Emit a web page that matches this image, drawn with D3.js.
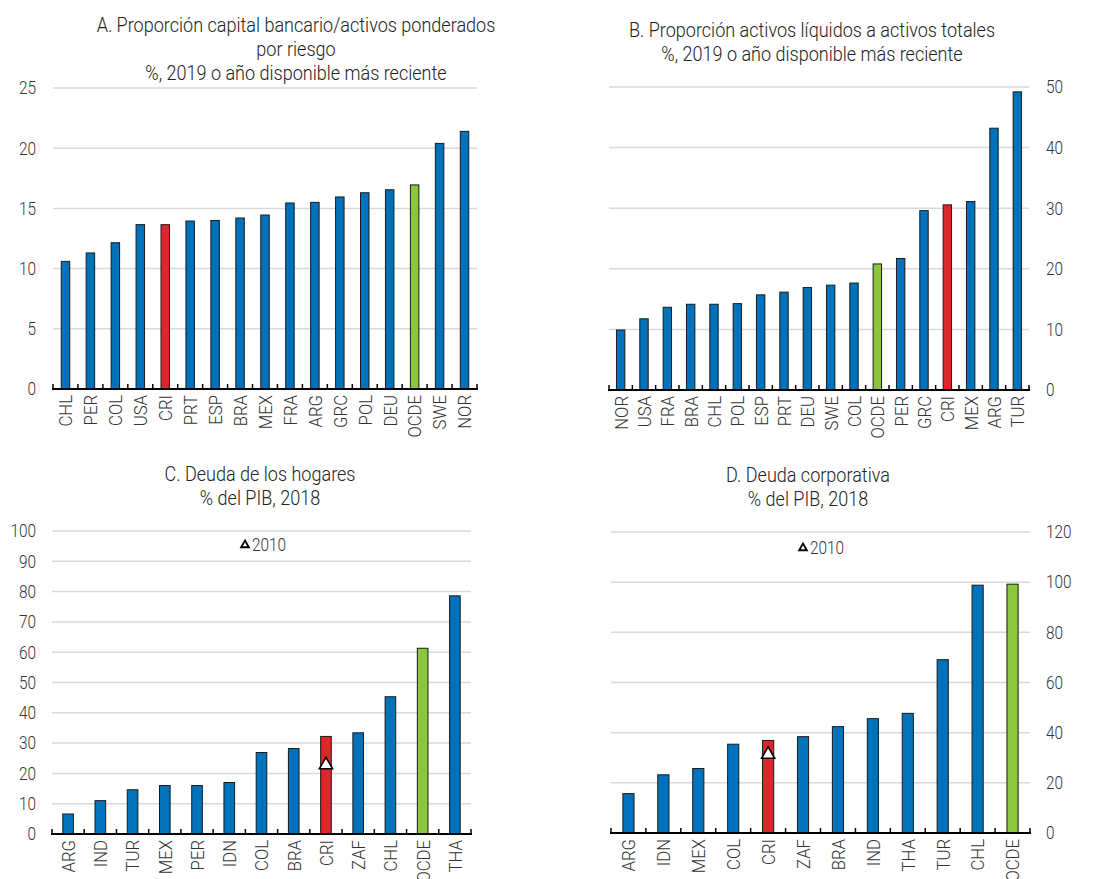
<!DOCTYPE html>
<html>
<head>
<meta charset="utf-8">
<script src="https://cdn.jsdelivr.net/npm/d3@7"></script>
<style>
  body { margin: 0; background: #fff; }
  text { font-family: Roboto, "Liberation Sans", sans-serif; font-weight: 300; fill: #333; }
</style>
</head>
<body>
<script>
// Panel A: bank capital to risk-weighted assets
var catsA = ["CHL","PER","COL","USA","CRI","PRT","ESP","BRA","MEX","FRA","ARG","GRC","POL","DEU","OCDE","SWE","NOR"];
var valsA = [10.6, 11.3, 12.15, 13.65, 13.65, 13.95, 14.0, 14.2, 14.45, 15.45, 15.5, 15.95, 16.3, 16.55, 16.95, 20.4, 21.4];
var ticksA = [0, 5, 10, 15, 20, 25];

// Panel B: liquid assets to total assets
var catsB = ["NOR","USA","FRA","BRA","CHL","POL","ESP","PRT","DEU","SWE","COL","OCDE","PER","GRC","CRI","MEX","ARG","TUR"];
var valsB = [9.9, 11.75, 13.65, 14.15, 14.15, 14.25, 15.7, 16.15, 16.9, 17.3, 17.65, 20.8, 21.7, 29.6, 30.55, 31.1, 43.2, 49.2];
var ticksB = [0, 10, 20, 30, 40, 50];

// Panel C: household debt
var catsC = ["ARG","IND","TUR","MEX","PER","IDN","COL","BRA","CRI","ZAF","CHL","OCDE","THA"];
var valsC = [6.6, 11.0, 14.6, 16.0, 16.0, 17.0, 26.9, 28.2, 32.2, 33.4, 45.3, 61.3, 78.6];
var ticksC = [0, 10, 20, 30, 40, 50, 60, 70, 80, 90, 100];
var cri2010C = 22.8;

// Panel D: corporate debt
var catsD = ["ARG","IDN","MEX","COL","CRI","ZAF","BRA","IND","THA","TUR","CHL","OCDE"];
var valsD = [15.7, 23.2, 25.7, 35.4, 36.9, 38.4, 42.4, 45.6, 47.7, 69.1, 98.8, 99.2];
var ticksD = [0, 20, 40, 60, 80, 100, 120];
var cri2010D = 31.3;

// horizontal squeeze so the text reads like the narrow font of the original
var narrow = 0.88;

var svg = d3.select("body").append("svg")
  .attr("width", 1107)
  .attr("height", 879);

// colour per country: Costa Rica red, OECD green, others blue
function barColor(c) {
  if (c === "CRI") return "#e0252b";
  if (c === "OCDE") return "#8cc63f";
  return "#0072bc";
}

function drawPanel(p) {
  var g = svg.append("g");

  var x = d3.scaleBand()
    .domain(p.cats)
    .range([p.x0, p.x1]);

  var y = d3.scaleLinear()
    .domain([0, p.ticks[p.ticks.length - 1]])
    .range([p.yBase, p.yTop]);

  // gridlines
  g.selectAll(".grid")
    .data(p.ticks.slice(1))
    .enter().append("line")
    .attr("x1", p.x0)
    .attr("x2", p.x1)
    .attr("y1", function(d) { return y(d); })
    .attr("y2", function(d) { return y(d); })
    .style("stroke", "#d9d9d9")
    .style("stroke-width", 1.5);

  // value axis labels (left or right side)
  var lx = p.side === "left" ? 36 : 1046;
  g.selectAll(".ylab")
    .data(p.ticks)
    .enter().append("text")
    .attr("transform", function(d) { return "translate(" + lx + "," + y(d) + ") scale(" + narrow + ",1)"; })
    .attr("dy", "0.36em")
    .attr("text-anchor", p.side === "left" ? "end" : "start")
    .style("font-size", "17.5px")
    .text(function(d) { return d; });

  // bars
  var bw = x.bandwidth() * p.barFrac;
  g.selectAll(".bar")
    .data(p.vals)
    .enter().append("rect")
    .attr("x", function(d, i) { return x(p.cats[i]) + (x.bandwidth() - bw) / 2; })
    .attr("y", function(d) { return y(d); })
    .attr("width", bw)
    .attr("height", function(d) { return y(0) - y(d); })
    .style("fill", function(d, i) { return barColor(p.cats[i]); })
    .style("stroke", "#1a1a1a")
    .style("stroke-width", 1);

  // category axis line with small upward ticks between bars
  g.append("line")
    .attr("x1", p.x0 - 1)
    .attr("x2", p.x1 + 1)
    .attr("y1", y(0))
    .attr("y2", y(0))
    .style("stroke", "#000")
    .style("stroke-width", 2);
  var bounds = p.cats.map(function(c) { return x(c); }).concat([p.x1]);
  g.selectAll(".tk")
    .data(bounds)
    .enter().append("line")
    .attr("x1", function(d) { return d; })
    .attr("x2", function(d) { return d; })
    .attr("y1", y(0))
    .attr("y2", y(0) - 5)
    .style("stroke", "#000")
    .style("stroke-width", 1.5);

  // rotated country labels
  g.selectAll(".xlab")
    .data(p.cats)
    .enter().append("text")
    .attr("transform", function(d) {
      return "translate(" + (x(d) + x.bandwidth() / 2) + "," + (y(0) + 6) + ") rotate(-90) scale(" + narrow + ",1)";
    })
    .attr("dy", "0.36em")
    .attr("text-anchor", "end")
    .style("font-size", "19px")
    .text(function(d) { return d; });

  // title lines
  g.selectAll(".title")
    .data(p.title)
    .enter().append("text")
    .attr("transform", function(d, i) { return "translate(" + p.titleX + "," + (p.titleY + i * 24) + ") scale(" + narrow + ",1)"; })
    .attr("dy", "0.36em")
    .attr("text-anchor", "middle")
    .style("font-size", "20.5px")
    .style("fill", "#222")
    .text(function(d) { return d; });

  // 2010 marker and legend
  if (p.mark !== undefined) {
    var tri = d3.symbol().type(d3.symbolTriangle);
    g.append("path")
      .attr("d", tri.size(75)())
      .attr("transform", "translate(" + (x("CRI") + x.bandwidth() / 2) + "," + y(p.mark) + ")")
      .style("fill", "#fff")
      .style("stroke", "#000")
      .style("stroke-width", 1.6);
    g.append("path")
      .attr("d", tri.size(26)())
      .attr("transform", "translate(" + p.legX + "," + p.legY + ")")
      .style("fill", "#fff")
      .style("stroke", "#000")
      .style("stroke-width", 1.8);
    g.append("text")
      .attr("transform", "translate(" + (p.legX + 7) + "," + p.legY + ") scale(" + narrow + ",1)")
      .attr("dy", "0.36em")
      .style("font-size", "17.5px")
      .text("2010");
  }
}

drawPanel({
  cats: catsA, vals: valsA, ticks: ticksA, side: "left",
  x0: 53, x1: 477, yBase: 389, yTop: 88, barFrac: 0.34,
  title: ["A. Proporción capital bancario/activos ponderados", "por riesgo", "%, 2019 o año disponible más reciente"],
  titleX: 296, titleY: 25
});

drawPanel({
  cats: catsB, vals: valsB, ticks: ticksB, side: "right",
  x0: 609, x1: 1029, yBase: 390, yTop: 87, barFrac: 0.36,
  title: ["B. Proporción activos líquidos a activos totales", "%, 2019 o año disponible más reciente"],
  titleX: 812, titleY: 30
});

drawPanel({
  cats: catsC, vals: valsC, ticks: ticksC, side: "left",
  x0: 52, x1: 471, yBase: 834, yTop: 531, barFrac: 0.33,
  title: ["C. Deuda de los hogares", "% del PIB, 2018"],
  titleX: 260, titleY: 474,
  mark: cri2010C, legX: 245, legY: 545
});

drawPanel({
  cats: catsD, vals: valsD, ticks: ticksD, side: "right",
  x0: 611, x1: 1030, yBase: 833, yTop: 532, barFrac: 0.32,
  title: ["D. Deuda corporativa", "% del PIB, 2018"],
  titleX: 808, titleY: 475,
  mark: cri2010D, legX: 803, legY: 548
});
</script>
</body>
</html>
